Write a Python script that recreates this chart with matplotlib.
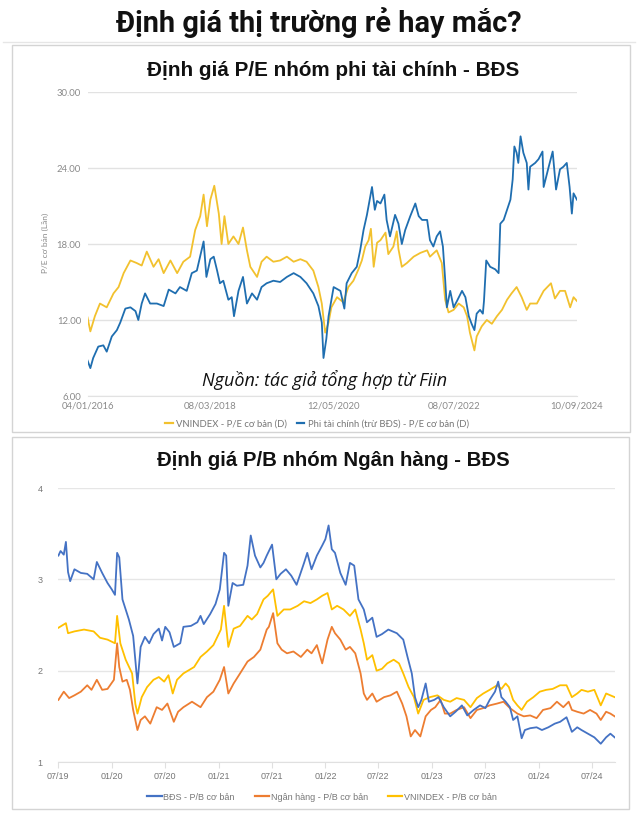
import datetime as dt
import numpy as np
import matplotlib
matplotlib.use("Agg")
import matplotlib.pyplot as plt
from matplotlib.patches import Rectangle
from matplotlib.lines import Line2D
from matplotlib import font_manager as fm

# ---------------- DATA ----------------
pe_tick_dates = ["2016-01-04", "2018-03-08", "2020-05-12", "2022-07-08", "2024-09-10"]
pe_tick_labels = ["04/01/2016", "08/03/2018", "12/05/2020", "08/07/2022", "10/09/2024"]

pe_vn_t = [2016.00, 2016.05, 2016.13, 2016.22, 2016.34, 2016.46, 2016.55, 2016.64, 2016.76, 2016.87,
           2016.96, 2017.05, 2017.17, 2017.26, 2017.35, 2017.47, 2017.59, 2017.70, 2017.82, 2017.91,
           2018.00, 2018.06, 2018.12, 2018.18, 2018.25, 2018.33, 2018.38, 2018.43, 2018.50, 2018.59,
           2018.68, 2018.76, 2018.83, 2018.89, 2019.01, 2019.09, 2019.18, 2019.30, 2019.42, 2019.54,
           2019.66, 2019.78, 2019.89, 2020.01, 2020.10, 2020.16, 2020.22, 2020.28, 2020.33, 2020.43,
           2020.54, 2020.63, 2020.72, 2020.81, 2020.87, 2020.93, 2020.99, 2021.03, 2021.08, 2021.14,
           2021.20, 2021.29, 2021.34, 2021.43, 2021.49, 2021.52, 2021.58, 2021.67, 2021.79, 2021.91,
           2022.03, 2022.08, 2022.20, 2022.29, 2022.35, 2022.41, 2022.50, 2022.59, 2022.68, 2022.74,
           2022.79, 2022.87, 2022.91, 2023.00, 2023.09, 2023.18, 2023.27, 2023.36, 2023.45, 2023.53,
           2023.62, 2023.71, 2023.80, 2023.86, 2023.98, 2024.10, 2024.23, 2024.30, 2024.39, 2024.48,
           2024.57, 2024.63, 2024.69]
pe_vn = [12.2, 11.1, 12.3, 13.3, 13.0, 14.1, 14.6, 15.7, 16.7, 16.5,
         16.3, 17.4, 16.2, 16.8, 15.7, 16.7, 15.7, 16.6, 17.0, 19.1,
         20.2, 21.9, 19.4, 21.5, 22.6, 20.4, 18.0, 20.2, 18.0, 18.6,
         18.0, 19.3, 17.5, 16.2, 15.4, 16.6, 17.0, 16.6, 16.7, 17.0,
         16.6, 16.8, 16.6, 15.9, 14.6, 13.3, 11.0, 11.8, 13.0, 13.8,
         13.4, 14.6, 15.1, 16.0, 16.7, 17.8, 18.3, 19.2, 16.2, 18.1,
         18.3, 18.9, 17.2, 17.8, 19.0, 17.6, 16.2, 16.5, 17.0, 17.3,
         17.5, 17.0, 17.5, 16.5, 13.6, 12.6, 12.8, 13.3, 13.0, 12.3,
         11.0, 9.6, 10.7, 11.5, 12.0, 11.7, 12.3, 12.8, 13.6, 14.1,
         14.6, 13.8, 12.8, 13.3, 13.3, 14.3, 14.9, 13.7, 14.3, 14.3,
         13.0, 13.8, 13.5]

pe_nf_t = [2016.00, 2016.05, 2016.10, 2016.19, 2016.28, 2016.34, 2016.43, 2016.52, 2016.58, 2016.67,
           2016.76, 2016.85, 2016.90, 2016.96, 2017.02, 2017.11, 2017.23, 2017.35, 2017.44, 2017.56,
           2017.64, 2017.76, 2017.85, 2017.94, 2018.06, 2018.11, 2018.18, 2018.24, 2018.30, 2018.35,
           2018.41, 2018.50, 2018.56, 2018.60, 2018.68, 2018.76, 2018.83, 2018.92, 2019.01, 2019.09,
           2019.18, 2019.30, 2019.42, 2019.54, 2019.66, 2019.78, 2019.89, 2020.01, 2020.10, 2020.16,
           2020.19, 2020.24, 2020.28, 2020.37, 2020.49, 2020.56, 2020.60, 2020.69, 2020.78, 2020.84,
           2020.90, 2020.96, 2021.01, 2021.05, 2021.10, 2021.14, 2021.20, 2021.27, 2021.31, 2021.37,
           2021.46, 2021.52, 2021.58, 2021.64, 2021.73, 2021.82, 2021.88, 2021.94, 2022.03, 2022.08,
           2022.14, 2022.20, 2022.26, 2022.31, 2022.35, 2022.38, 2022.44, 2022.50, 2022.56, 2022.65,
           2022.71, 2022.77, 2022.82, 2022.87, 2022.91, 2022.97, 2023.02, 2023.04, 2023.08, 2023.15,
           2023.24, 2023.30, 2023.33, 2023.39, 2023.45, 2023.51, 2023.55, 2023.58, 2023.62, 2023.65,
           2023.69, 2023.74, 2023.80, 2023.83, 2023.86, 2023.95, 2024.01, 2024.08, 2024.10, 2024.19,
           2024.26, 2024.32, 2024.39, 2024.45, 2024.51, 2024.56, 2024.60, 2024.63, 2024.69]
pe_nf = [8.8, 8.2, 9.0, 9.9, 10.0, 9.5, 10.7, 11.2, 11.8, 12.9,
         13.0, 12.7, 12.0, 13.3, 14.1, 13.3, 13.3, 13.1, 14.4, 14.1,
         14.6, 14.3, 15.7, 15.9, 18.2, 15.4, 16.8, 17.0, 15.9, 14.9,
         15.1, 13.6, 13.8, 12.3, 14.3, 15.4, 13.3, 14.1, 13.6, 14.6,
         14.9, 15.1, 15.0, 15.4, 15.7, 15.4, 14.9, 14.1, 13.1, 11.8,
         9.0, 10.5, 12.3, 14.6, 14.3, 12.9, 14.9, 15.7, 16.2, 17.5,
         19.1, 20.3, 21.5, 22.5, 20.7, 21.4, 21.2, 21.9, 19.9, 18.6,
         20.3, 19.6, 18.0, 19.1, 20.2, 21.2, 20.2, 19.9, 19.9, 18.3,
         17.8, 18.6, 19.0, 17.8, 15.2, 13.0, 14.3, 13.0, 13.5, 14.3,
         13.8, 12.3, 11.7, 11.2, 12.5, 12.8, 12.5, 13.5, 16.7, 16.2,
         16.0, 15.7, 19.6, 19.9, 20.7, 21.5, 23.1, 25.7, 25.2, 24.4,
         26.5, 25.2, 24.4, 22.3, 24.1, 24.4, 24.7, 25.3, 22.5, 24.1,
         25.3, 22.3, 23.9, 24.1, 24.4, 22.5, 20.4, 22.0, 21.5]

pb_tick_dates = ["2019-07-01", "2020-01-01", "2020-07-01", "2021-01-01", "2021-07-01", "2022-01-01",
                 "2022-07-01", "2023-01-01", "2023-07-01", "2024-01-01", "2024-07-01"]
pb_tick_labels = ["07/19", "01/20", "07/20", "01/21", "07/21", "01/22",
                  "07/22", "01/23", "07/23", "01/24", "07/24"]

pb_bds_t = [2019.50, 2019.52, 2019.55, 2019.57, 2019.59, 2019.61, 2019.65, 2019.71, 2019.77, 2019.83,
            2019.86, 2019.91, 2019.96, 2020.00, 2020.03, 2020.05, 2020.07, 2020.10, 2020.13, 2020.16,
            2020.20, 2020.24, 2020.27, 2020.31, 2020.35, 2020.39, 2020.44, 2020.47, 2020.50, 2020.54,
            2020.58, 2020.64, 2020.67, 2020.74, 2020.80, 2020.83, 2020.86, 2020.92, 2020.97, 2021.01,
            2021.05, 2021.07, 2021.09, 2021.13, 2021.17, 2021.23, 2021.27, 2021.30, 2021.34, 2021.39,
            2021.42, 2021.45, 2021.50, 2021.54, 2021.58, 2021.63, 2021.68, 2021.73, 2021.80, 2021.83,
            2021.87, 2021.92, 2021.97, 2022.00, 2022.03, 2022.06, 2022.09, 2022.14, 2022.19, 2022.23,
            2022.27, 2022.31, 2022.36, 2022.39, 2022.44, 2022.48, 2022.53, 2022.59, 2022.67, 2022.73,
            2022.77, 2022.81, 2022.84, 2022.87, 2022.90, 2022.94, 2022.97, 2023.02, 2023.06, 2023.11,
            2023.17, 2023.22, 2023.28, 2023.33, 2023.39, 2023.45, 2023.50, 2023.54, 2023.59, 2023.62,
            2023.65, 2023.69, 2023.73, 2023.76, 2023.80, 2023.84, 2023.87, 2023.92, 2023.98, 2024.03,
            2024.09, 2024.15, 2024.20, 2024.26, 2024.31, 2024.36, 2024.40, 2024.46, 2024.52, 2024.58,
            2024.63, 2024.67, 2024.71]
pb_bds = [3.26, 3.31, 3.27, 3.41, 3.08, 2.98, 3.11, 3.07, 3.06, 3.00,
          3.19, 3.07, 2.96, 2.89, 2.83, 3.29, 3.24, 2.78, 2.67, 2.56,
          2.38, 1.86, 2.26, 2.37, 2.30, 2.40, 2.46, 2.33, 2.48, 2.42,
          2.26, 2.30, 2.48, 2.49, 2.53, 2.60, 2.51, 2.62, 2.73, 2.89,
          3.29, 3.26, 2.71, 2.96, 2.93, 2.94, 3.15, 3.48, 3.26, 3.13,
          3.18, 3.26, 3.38, 3.00, 3.06, 3.11, 3.04, 2.94, 3.18, 3.29,
          3.11, 3.26, 3.37, 3.44, 3.59, 3.33, 3.29, 3.07, 2.94, 3.18,
          3.15, 2.78, 2.67, 2.53, 2.58, 2.37, 2.40, 2.45, 2.41, 2.34,
          2.15, 1.97, 1.71, 1.60, 1.68, 1.86, 1.66, 1.68, 1.71, 1.60,
          1.50, 1.55, 1.62, 1.51, 1.57, 1.62, 1.59, 1.68, 1.77, 1.88,
          1.71, 1.66, 1.60, 1.46, 1.50, 1.26, 1.35, 1.37, 1.38, 1.35,
          1.38, 1.42, 1.44, 1.49, 1.33, 1.38, 1.35, 1.31, 1.27, 1.20,
          1.27, 1.31, 1.27]

pb_bank_t = [2019.50, 2019.55, 2019.60, 2019.65, 2019.71, 2019.77, 2019.81, 2019.86, 2019.91, 2019.96,
             2020.02, 2020.05, 2020.07, 2020.10, 2020.14, 2020.17, 2020.20, 2020.24, 2020.27, 2020.31,
             2020.36, 2020.42, 2020.47, 2020.52, 2020.58, 2020.62, 2020.67, 2020.75, 2020.83, 2020.89,
             2020.95, 2021.01, 2021.05, 2021.09, 2021.14, 2021.20, 2021.27, 2021.33, 2021.39, 2021.45,
             2021.47, 2021.51, 2021.55, 2021.59, 2021.64, 2021.70, 2021.77, 2021.83, 2021.87, 2021.92,
             2021.97, 2022.02, 2022.06, 2022.09, 2022.14, 2022.19, 2022.23, 2022.28, 2022.33, 2022.36,
             2022.39, 2022.44, 2022.48, 2022.55, 2022.61, 2022.67, 2022.72, 2022.76, 2022.80, 2022.84,
             2022.89, 2022.94, 2022.99, 2023.03, 2023.08, 2023.12, 2023.17, 2023.23, 2023.30, 2023.36,
             2023.42, 2023.48, 2023.54, 2023.61, 2023.67, 2023.73, 2023.80, 2023.86, 2023.92, 2023.98,
             2024.04, 2024.11, 2024.17, 2024.23, 2024.28, 2024.31, 2024.36, 2024.42, 2024.48, 2024.54,
             2024.58, 2024.63, 2024.67, 2024.71]
pb_bank = [1.68, 1.77, 1.70, 1.73, 1.77, 1.84, 1.79, 1.90, 1.79, 1.80,
           1.90, 2.30, 2.04, 1.88, 1.90, 1.79, 1.57, 1.35, 1.46, 1.50,
           1.42, 1.60, 1.57, 1.64, 1.44, 1.55, 1.60, 1.66, 1.60, 1.71,
           1.77, 1.90, 2.04, 1.75, 1.86, 1.97, 2.10, 2.15, 2.23, 2.45,
           2.48, 2.63, 2.30, 2.23, 2.19, 2.21, 2.15, 2.23, 2.19, 2.28,
           2.08, 2.34, 2.48, 2.41, 2.34, 2.23, 2.26, 2.19, 1.97, 1.75,
           1.68, 1.75, 1.66, 1.71, 1.73, 1.77, 1.64, 1.50, 1.28, 1.35,
           1.28, 1.50, 1.57, 1.60, 1.68, 1.53, 1.53, 1.57, 1.60, 1.48,
           1.57, 1.59, 1.62, 1.64, 1.66, 1.59, 1.53, 1.50, 1.51, 1.48,
           1.57, 1.59, 1.66, 1.60, 1.66, 1.57, 1.55, 1.53, 1.57, 1.53,
           1.46, 1.55, 1.53, 1.50]

pb_vn_t = [2019.50, 2019.57, 2019.59, 2019.65, 2019.74, 2019.83, 2019.89, 2019.96, 2020.03, 2020.05,
           2020.08, 2020.13, 2020.19, 2020.22, 2020.24, 2020.28, 2020.33, 2020.39, 2020.44, 2020.49,
           2020.53, 2020.57, 2020.61, 2020.67, 2020.77, 2020.83, 2020.89, 2020.95, 2021.02, 2021.05,
           2021.09, 2021.14, 2021.20, 2021.27, 2021.31, 2021.36, 2021.42, 2021.46, 2021.51, 2021.55,
           2021.61, 2021.67, 2021.74, 2021.80, 2021.86, 2021.92, 2021.97, 2022.02, 2022.06, 2022.11,
           2022.17, 2022.23, 2022.28, 2022.33, 2022.36, 2022.39, 2022.44, 2022.48, 2022.53, 2022.58,
           2022.64, 2022.69, 2022.73, 2022.78, 2022.83, 2022.87, 2022.92, 2022.98, 2023.05, 2023.11,
           2023.17, 2023.23, 2023.30, 2023.36, 2023.42, 2023.48, 2023.54, 2023.61, 2023.65, 2023.69,
           2023.72, 2023.76, 2023.80, 2023.84, 2023.89, 2023.95, 2024.01, 2024.07, 2024.13, 2024.20,
           2024.26, 2024.31, 2024.36, 2024.40, 2024.46, 2024.52, 2024.58, 2024.63, 2024.67, 2024.71]
pb_vn = [2.47, 2.52, 2.41, 2.43, 2.45, 2.43, 2.36, 2.34, 2.30, 2.60,
         2.30, 2.12, 1.97, 1.64, 1.53, 1.71, 1.82, 1.90, 1.93, 1.88,
         1.95, 1.75, 1.90, 1.97, 2.04, 2.15, 2.21, 2.28, 2.45, 2.71,
         2.26, 2.46, 2.49, 2.60, 2.56, 2.62, 2.78, 2.82, 2.89, 2.60,
         2.67, 2.67, 2.71, 2.76, 2.74, 2.78, 2.82, 2.85, 2.67, 2.71,
         2.67, 2.60, 2.67, 2.45, 2.30, 2.12, 2.17, 2.00, 2.02, 2.08,
         2.12, 2.08, 1.97, 1.82, 1.71, 1.53, 1.68, 1.71, 1.73, 1.68,
         1.66, 1.70, 1.68, 1.60, 1.70, 1.75, 1.79, 1.84, 1.80, 1.86,
         1.82, 1.68, 1.62, 1.57, 1.66, 1.71, 1.77, 1.79, 1.80, 1.84,
         1.84, 1.71, 1.75, 1.79, 1.77, 1.79, 1.62, 1.75, 1.73, 1.71]


# ---------------- HELPERS ----------------
def to_dates(years):
    out = []
    for y in years:
        yi = int(np.floor(y))
        a, b = dt.datetime(yi, 1, 1), dt.datetime(yi + 1, 1, 1)
        out.append(a + (b - a) * (y - yi))
    return out


def parse(ds):
    return [dt.datetime.strptime(d, "%Y-%m-%d") for d in ds]


avail = {f.name for f in fm.fontManager.ttflist}
sub_font = "Liberation Sans" if "Liberation Sans" in avail else "DejaVu Sans"
tick_font = "Lato" if "Lato" in avail else "DejaVu Sans"
ital_font = "Open Sans" if "Open Sans" in avail else "DejaVu Sans"
title_font = "Roboto" if "Roboto" in avail else "DejaVu Sans"

W, H = 638, 817
fig = plt.figure(figsize=(W / 100, H / 100), dpi=100)
fig.patch.set_facecolor("white")


def fx(px):
    return px / W


def fy(py):
    return 1 - py / H


def frame(x0, y0, x1, y1, color="#d4d4d4"):
    fig.patches.append(Rectangle((fx(x0), fy(y1)), fx(x1) - fx(x0), fy(y0) - fy(y1),
                                 transform=fig.transFigure, fill=False, ec=color, lw=1.0))


def fit_width(txt, target_px):
    fig.canvas.draw()
    r = fig.canvas.get_renderer()
    w = txt.get_window_extent(renderer=r).width
    txt.set_fontsize(txt.get_fontsize() * target_px / w)


# frames / separators
fig.add_artist(Line2D([fx(3), fx(635)], [fy(42), fy(42)], color="#e6e6e6", lw=1))
frame(12, 45, 630, 432)
frame(12, 437, 629, 809)

# main title
t_main = fig.text(fx(319), fy(23), "Định giá thị trường rẻ hay mắc?", ha="center", va="center",
                  fontsize=20, fontweight="bold", family=title_font, fontstretch="condensed",
                  color="#111111")

# ---------------- TOP CHART ----------------
gray = "#8a8a8a"
ax1 = fig.add_axes([fx(88), fy(396), fx(577) - fx(88), fy(92) - fy(396)])
ax1.plot(to_dates(pe_vn_t), pe_vn, color="#F2C12E", lw=1.3, zorder=3)
ax1.plot(to_dates(pe_nf_t), pe_nf, color="#1F6EB0", lw=1.3, zorder=4)
ax1.set_ylim(6, 30)
ax1.set_yticks([6, 12, 18, 24, 30])
ax1.set_yticklabels([f"{v:.2f}" for v in [6, 12, 18, 24, 30]])
ax1.set_xlim(dt.datetime(2016, 1, 4), dt.datetime(2024, 9, 10))
ax1.set_xticks(parse(pe_tick_dates))
ax1.set_xticklabels(pe_tick_labels)
ax1.grid(axis="y", color="#e2e2e2", lw=1)
ax1.set_axisbelow(True)
for s in ["top", "right", "left"]:
    ax1.spines[s].set_visible(False)
ax1.spines["bottom"].set_color("#e2e2e2")
ax1.tick_params(axis="both", length=0, labelsize=6.8, labelcolor=gray)
ax1.tick_params(axis="y", pad=5)
ax1.tick_params(axis="x", pad=4)
for lab in ax1.get_xticklabels() + ax1.get_yticklabels():
    lab.set_family(tick_font)

fig.text(fx(45), fy(243), "P/E cơ bản (Lần)", rotation=90, ha="center", va="center",
         fontsize=6, color=gray, family=tick_font)
t_sub1 = fig.text(fx(333), fy(70), "Định giá P/E nhóm phi tài chính - BĐS", ha="center", va="center",
                  fontsize=14, fontweight="bold", family=sub_font, color="#111111")
fig.text(fx(325), fy(380), "Nguồn: tác giả tổng hợp từ Fiin", ha="center", va="center",
         fontsize=13, style="italic", family=ital_font, color="#111111")

h1 = [Line2D([], [], color="#F2C12E", lw=1.6), Line2D([], [], color="#1F6EB0", lw=1.6)]
fig.legend(h1, ["VNINDEX - P/E cơ bản (D)", "Phi tài chính (trừ BĐS) - P/E cơ bản (D)"],
           loc="center", bbox_to_anchor=(fx(317), fy(424)), ncol=2, frameon=False,
           handlelength=0.8, handletextpad=0.4, columnspacing=1.0,
           labelcolor="#777777", prop={"family": tick_font, "size": 6.8})

# ---------------- BOTTOM CHART ----------------
ax2 = fig.add_axes([fx(58), fy(762), fx(615) - fx(58), fy(488) - fy(762)])
c_bds, c_bank, c_vn = "#4472C4", "#ED7D31", "#FFC000"
ax2.plot(to_dates(pb_vn_t), pb_vn, color=c_vn, lw=1.3, zorder=3)
ax2.plot(to_dates(pb_bank_t), pb_bank, color=c_bank, lw=1.3, zorder=4)
ax2.plot(to_dates(pb_bds_t), pb_bds, color=c_bds, lw=1.3, zorder=5)
ax2.set_ylim(1, 4)
ax2.set_yticks([1, 2, 3, 4])
ax2.set_yticklabels(["1", "2", "3", "4"])
ax2.set_xlim(dt.datetime(2019, 7, 1), dt.datetime(2024, 9, 18))
ax2.set_xticks(parse(pb_tick_dates))
ax2.set_xticklabels(pb_tick_labels)
ax2.grid(axis="y", color="#e6e6e6", lw=1)
ax2.set_axisbelow(True)
for s in ["top", "right", "left"]:
    ax2.spines[s].set_visible(False)
ax2.spines["bottom"].set_color("#e0e0e0")
ax2.tick_params(axis="y", length=0, labelsize=6.5, labelcolor="#777777", pad=11)
ax2.tick_params(axis="x", length=4, color="#e0e0e0", labelsize=6.5, labelcolor="#777777", pad=3)
for lab in ax2.get_xticklabels() + ax2.get_yticklabels():
    lab.set_family(sub_font)

t_sub2 = fig.text(fx(333), fy(461), "Định giá P/B nhóm Ngân hàng - BĐS", ha="center", va="center",
                  fontsize=14, fontweight="bold", family=sub_font, color="#111111")

h2 = [Line2D([], [], color=c_bds, lw=1.6), Line2D([], [], color=c_bank, lw=1.6),
      Line2D([], [], color=c_vn, lw=1.6)]
fig.legend(h2, ["BĐS - P/B cơ bản", "Ngân hàng - P/B cơ bản", "VNINDEX - P/B cơ bản"],
           loc="center", bbox_to_anchor=(fx(322), fy(797)), ncol=3, frameon=False,
           handlelength=1.6, handletextpad=0.2, columnspacing=2.2,
           labelcolor="#777777", prop={"family": sub_font, "size": 6.5})

# match the reference text widths
fit_width(t_main, 405)
fit_width(t_sub1, 373)
fit_width(t_sub2, 355)

fig.savefig("out.png", dpi=100, facecolor="white")
